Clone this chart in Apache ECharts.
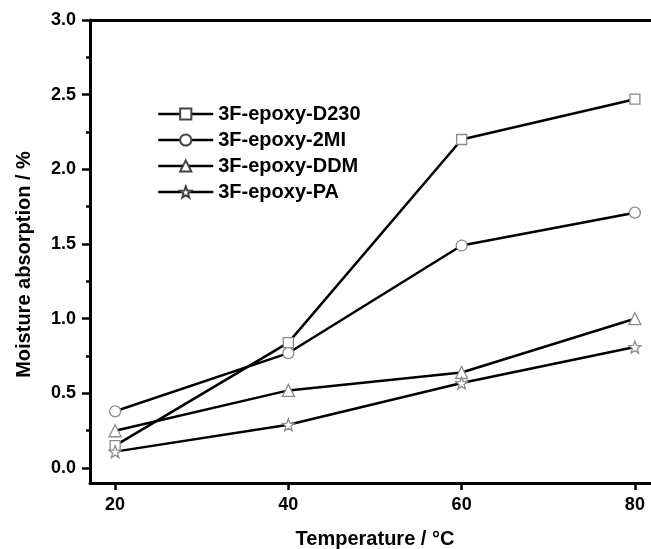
<!DOCTYPE html>
<html>
<head>
<meta charset="utf-8">
<script src="https://cdn.jsdelivr.net/npm/echarts@6/dist/echarts.min.js"></script>
<style>html,body{margin:0;padding:0;background:#fff}#c{width:651px;height:549px}</style>
</head>
<body>
<div id="c"></div>
<script>
const temperatures = [20, 40, 60, 80];
const d230 = [0.15, 0.84, 2.20, 2.47];
const mi2 = [0.38, 0.77, 1.49, 1.71];
const ddm = [0.25, 0.52, 0.64, 1.00];
const pa = [0.11, 0.29, 0.57, 0.81];
const seriesNames = ['3F-epoxy-D230', '3F-epoxy-2MI', '3F-epoxy-DDM', '3F-epoxy-PA'];
const xTickValues = [20, 40, 60, 80];
const yLabelValues = [0, 0.5, 1.0, 1.5, 2.0, 2.5, 3.0];
const yMinorValues = [0.25, 0.75, 1.25, 1.75, 2.25, 2.75];

const STAR = 'path://M100,0 L124.7,66 L195.1,69.1 L140,113 L158.8,180.9 L100,142 L41.2,180.9 L60,113 L4.9,69.1 L75.3,66 Z';
const FONT = 'Liberation Sans, Arial, sans-serif';
const symbols = ['rect', 'circle', 'triangle', STAR];
const sizes = [10, 11, 12, 12];
const datasets = [d230, mi2, ddm, pa];

const chart = echarts.init(document.getElementById('c'), null, {renderer: 'canvas'});
const series = datasets.map((vals, i) => ({
  name: seriesNames[i],
  type: 'line',
  data: vals.map((v, j) => [temperatures[j], v]),
  symbol: symbols[i],
  symbolSize: sizes[i],
  showAllSymbol: true,
  lineStyle: {color: '#000', width: 2.5},
  itemStyle: {color: '#fff', borderColor: '#8a8a8a', borderWidth: 1.3},
  emphasis: {disabled: true},
  animation: false,
  z: 3
}));

chart.setOption({
  animation: false,
  backgroundColor: '#fff',
  textStyle: {fontFamily: FONT},
  grid: {left: 90, top: 20, right: -9, bottom: 66, containLabel: false, outerBoundsMode: 'none'},
  legend: {
    data: seriesNames,
    orient: 'vertical',
    left: 157,
    top: 104,
    padding: 0,
    itemWidth: 55,
    itemHeight: 14,
    itemGap: 6,
    textStyle: {fontFamily: FONT, fontWeight: 'bold', fontSize: 20, lineHeight: 20, color: '#000'},
    itemStyle: {borderColor: '#444'},
    lineStyle: {color: '#000', width: 2.5}
  },
  xAxis: [{
    type: 'value',
    min: 17.1,
    max: 82.9,
    position: 'bottom',
    name: 'Temperature / \u00B0C',
    nameLocation: 'middle',
    nameGap: 46,
    nameTextStyle: {fontFamily: FONT, fontWeight: 'bold', fontSize: 20, color: '#000'},
    axisLine: {show: true, onZero: false, lineStyle: {color: '#000', width: 3}},
    axisTick: {show: true, inside: false, length: 7, customValues: xTickValues, lineStyle: {color: '#000', width: 2.5}},
    axisLabel: {show: true, margin: 13, customValues: xTickValues, fontFamily: FONT, fontWeight: 'bold', fontSize: 18, color: '#000'},
    splitLine: {show: false}
  }, {
    type: 'value',
    min: 17.1,
    max: 82.9,
    position: 'top',
    axisLine: {show: true, onZero: false, lineStyle: {color: '#000', width: 3}},
    axisTick: {show: false},
    axisLabel: {show: false},
    splitLine: {show: false}
  }],
  yAxis: [{
    type: 'value',
    min: -0.1,
    max: 3.0,
    position: 'left',
    name: 'Moisture absorption / %',
    nameLocation: 'middle',
    nameGap: 56,
    nameTextStyle: {fontFamily: FONT, fontWeight: 'bold', fontSize: 20, color: '#000', padding: [0, 26, 0, 0]},
    axisLine: {show: true, onZero: false, lineStyle: {color: '#000', width: 3}},
    axisTick: {show: true, inside: false, length: 8, customValues: yLabelValues, lineStyle: {color: '#000', width: 2.5}},
    axisLabel: {show: true, margin: 14, customValues: yLabelValues, formatter: v => Number(v).toFixed(1), fontFamily: FONT, fontWeight: 'bold', fontSize: 18, color: '#000'},
    splitLine: {show: false}
  }, {
    type: 'value',
    min: -0.1,
    max: 3.0,
    position: 'left',
    offset: 0,
    axisLine: {show: false, onZero: false},
    axisTick: {show: true, inside: false, length: 4, customValues: yMinorValues, lineStyle: {color: '#000', width: 2.5}},
    axisLabel: {show: false},
    splitLine: {show: false}
  }],
  series: series
});
</script>
</body>
</html>
